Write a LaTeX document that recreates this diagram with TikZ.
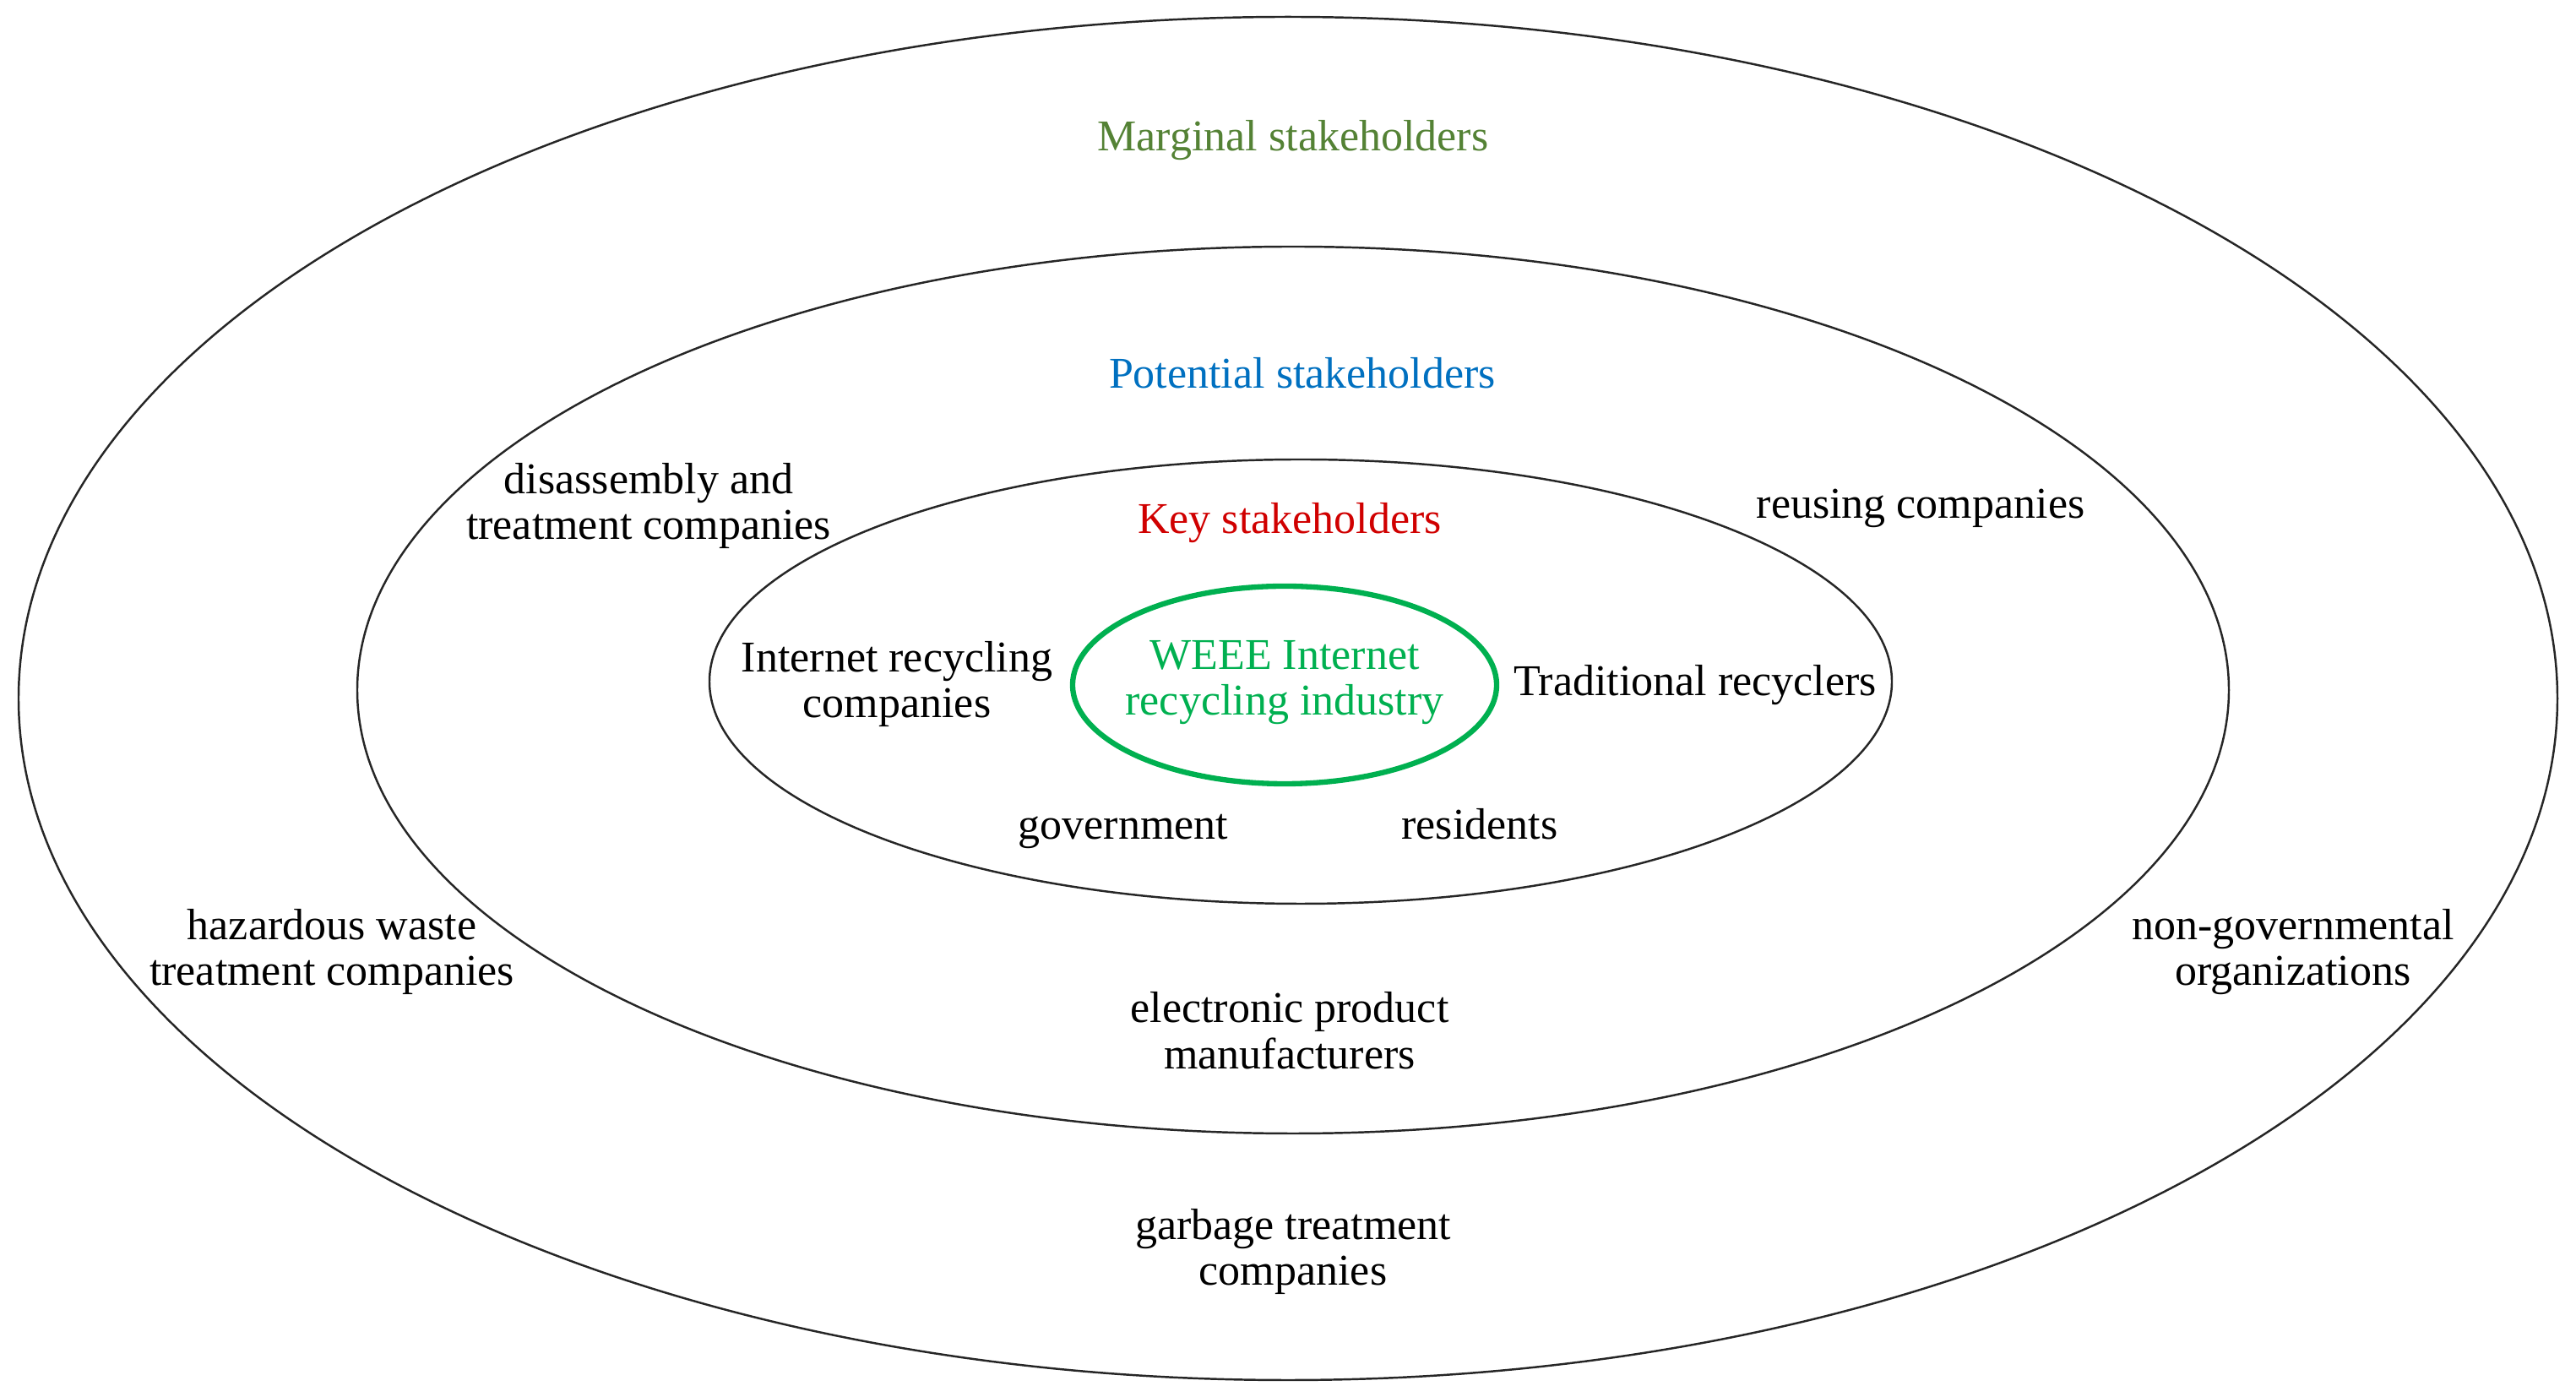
\documentclass[tikz,border=0pt]{standalone}
\usepackage{fontspec}
\setmainfont{Liberation Serif}
\definecolor{margc}{HTML}{548235}
\definecolor{potc}{HTML}{0070C0}
\definecolor{keyc}{HTML}{D00000}
\definecolor{weeec}{HTML}{00B050}
\tikzset{
  ring/.style={draw=black!85, line width=0.7pt},
  lbl/.style={align=center, font=\fontsize{14.8}{15.5}\selectfont, inner sep=0pt},
}
\begin{document}
\begin{tikzpicture}
\useasboundingbox (0,0) rectangle (30.5,16.54);
\draw[ring] (15.25,8.27) ellipse [x radius=15.03, y radius=8.07];
\draw[ring] (15.31,8.37) ellipse [x radius=11.08, y radius=5.25];
\draw[ring] (15.40,8.47) ellipse [x radius=7.00, y radius=2.63];
\draw[draw=weeec, line width=1.8pt] (15.21,8.43) ellipse [x radius=2.51, y radius=1.17];

\node[lbl, text=margc] (marg) at (15.31,14.88) {Marginal stakeholders};
\node[lbl, text=potc] (pot) at (15.42,12.12) {Potential stakeholders};
\node[lbl, text=keyc] (key) at (15.27,10.35) {Key stakeholders};
\node[lbl, text=weeec] (weee) at (15.21,8.46) {WEEE Internet\\recycling industry};
\node[lbl] (irc) at (10.62,8.44) {Internet recycling\\companies};
\node[lbl] (trad) at (20.07,8.43) {Traditional recyclers};
\node[lbl, anchor=base] (gov) at (13.30,6.60) {government};
\node[lbl, anchor=base] (res) at (17.52,6.60) {residents};
\node[lbl] (dis) at (7.68,10.55) {disassembly and\\treatment companies};
\node[lbl] (reu) at (22.74,10.52) {reusing companies};
\node[lbl] (haz) at (3.93,5.27) {hazardous waste\\treatment companies};
\node[lbl] (ele) at (15.27,4.34) {electronic product\\manufacturers};
\node[lbl] (ngo) at (27.15,5.27) {non-governmental\\organizations};
\node[lbl] (gar) at (15.31,1.72) {garbage treatment\\companies};
\end{tikzpicture}
\end{document}
